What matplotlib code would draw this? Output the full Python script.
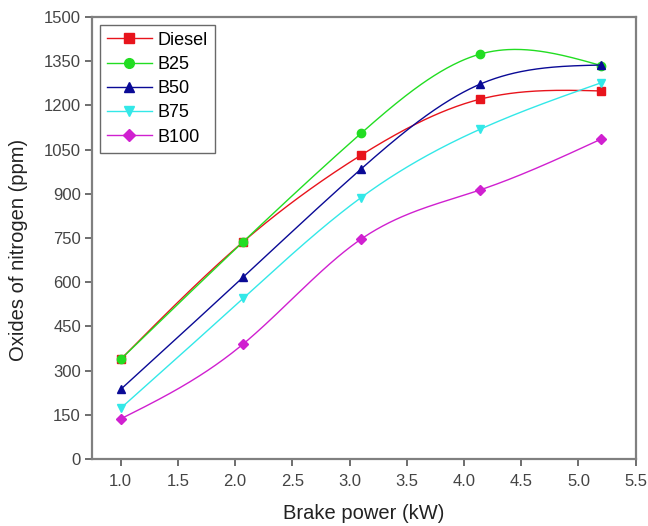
import numpy as np
import matplotlib
matplotlib.use("Agg")
import matplotlib.pyplot as plt

plt.rcParams['font.family'] = ['Liberation Sans', 'DejaVu Sans']

brake_power = [1.0, 2.07, 3.1, 4.14, 5.2]
diesel = [338, 737, 1031, 1221, 1249]
b25 = [338, 737, 1105, 1374, 1335]
b50 = [236, 617, 984, 1272, 1337]
b75 = [172, 545, 887, 1119, 1277]
b100 = [136, 390, 746, 913, 1086]

series = [
    ("Diesel", diesel, "#e8141c", "s"),
    ("B25", b25, "#22dd22", "o"),
    ("B50", b50, "#0a0a96", "^"),
    ("B75", b75, "#33e8e8", "v"),
    ("B100", b100, "#d020d0", "D"),
]


def natural_spline(x, y, xs):
    x = np.asarray(x, float)
    y = np.asarray(y, float)
    n = len(x)
    h = np.diff(x)
    A = np.zeros((n, n))
    r = np.zeros(n)
    A[0, 0] = 1
    A[-1, -1] = 1
    for i in range(1, n - 1):
        A[i, i - 1] = h[i - 1]
        A[i, i] = 2 * (h[i - 1] + h[i])
        A[i, i + 1] = h[i]
        r[i] = 3 * ((y[i + 1] - y[i]) / h[i] - (y[i] - y[i - 1]) / h[i - 1])
    c = np.linalg.solve(A, r)
    b = np.zeros(n - 1)
    d = np.zeros(n - 1)
    for i in range(n - 1):
        b[i] = (y[i + 1] - y[i]) / h[i] - h[i] * (2 * c[i] + c[i + 1]) / 3
        d[i] = (c[i + 1] - c[i]) / (3 * h[i])
    idx = np.clip(np.searchsorted(x, xs) - 1, 0, n - 2)
    dx = xs - x[idx]
    return y[idx] + b[idx] * dx + c[idx] * dx ** 2 + d[idx] * dx ** 3


fig = plt.figure(figsize=(6.48, 5.26), dpi=100)
ax = fig.add_axes([0.142, 0.1274, 0.839, 0.8403])

xs = np.linspace(brake_power[0], brake_power[-1], 300)
for name, vals, col, mk in series:
    ms = 6 if mk != "D" else 5
    ys = natural_spline(brake_power, vals, xs)
    ax.plot(xs, ys, color=col, lw=1.0)
    ax.plot(brake_power, vals, linestyle='none', marker=mk, color=col,
            markersize=ms)
    ax.plot([], [], color=col, lw=1.0, marker=mk, markersize=ms + 1,
            label=name)

ax.set_xlim(0.75, 5.5)
ax.set_ylim(0, 1500)
ax.set_xticks(np.arange(1.0, 5.51, 0.5))
ax.set_xticklabels([f"{v:.1f}" for v in np.arange(1.0, 5.51, 0.5)])
ax.set_yticks(np.arange(0, 1501, 150))

for s in ax.spines.values():
    s.set_color("#808080")
    s.set_linewidth(1.6)
ax.tick_params(axis='both', direction='out', length=5, width=1.2,
               color="#555555", labelsize=12, labelcolor="#444444", pad=3)
ax.tick_params(axis='x', pad=6)
ax.tick_params(top=False, right=False)

ax.set_xlabel("Brake power (kW)", fontsize=14.5, color="#222222")
ax.set_ylabel("Oxides of nitrogen (ppm)", fontsize=14.5, color="#222222")
ax.xaxis.set_label_coords(0.5, -0.102)
ax.yaxis.set_label_coords(-0.1176, 0.473)

leg = ax.legend(loc='upper left', bbox_to_anchor=(0.014, 0.983), fontsize=13,
                frameon=True, fancybox=False, edgecolor="#444444",
                handlelength=2.5, borderpad=0.4, labelspacing=0.4,
                handletextpad=0.3, borderaxespad=0)
leg.get_frame().set_linewidth(1.0)

fig.savefig("out.png", dpi=100)
